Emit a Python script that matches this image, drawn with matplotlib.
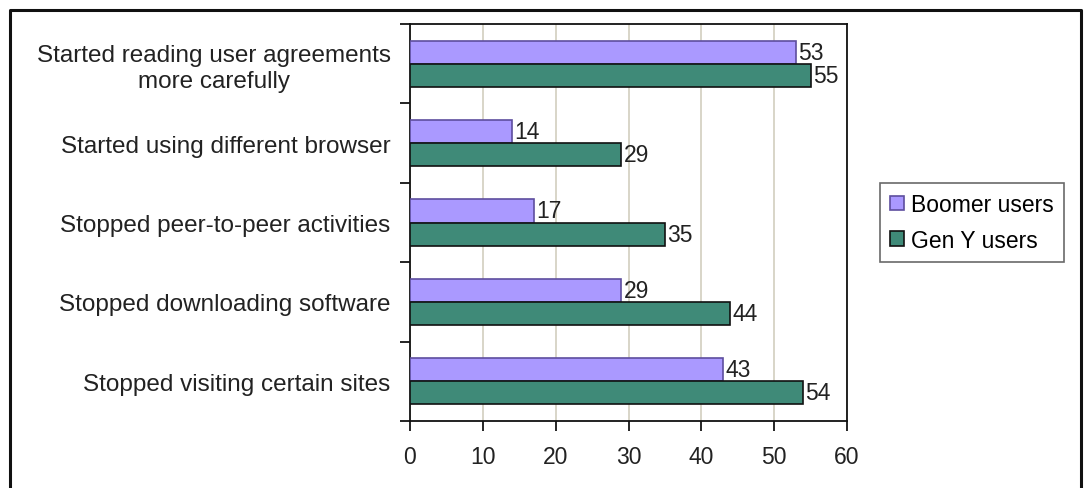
import matplotlib.pyplot as plt
import numpy as np
from matplotlib.lines import Line2D

plt.rcParams['font.family'] = ['Liberation Sans', 'DejaVu Sans']

categories = ["Started reading user agreements\nmore carefully",
              "Started using different browser",
              "Stopped peer-to-peer activities",
              "Stopped downloading software",
              "Stopped visiting certain sites"]
boomer = [53, 14, 17, 29, 43]
geny = [55, 29, 35, 44, 54]
x_ticks = [0, 10, 20, 30, 40, 50, 60]

FS = 16.5
fig = plt.figure(figsize=(10.88, 4.89), dpi=100)
ax = fig.add_axes([410 / 1088, 1 - 422 / 489, 437 / 1088, 397 / 489])

y = np.arange(len(categories))
h = 0.29
b1 = ax.barh(y - h / 2, boomer, height=h, color='#AA99FF', edgecolor='#5E4E9E',
             linewidth=1.2, label='Boomer users', zorder=3)
b2 = ax.barh(y + h / 2, geny, height=h, color='#3F8A78', edgecolor='#111111',
             linewidth=1.2, label='Gen Y users', zorder=3)

for bars, vals in ((b1, boomer), (b2, geny)):
    for r, v in zip(bars, vals):
        ax.text(v + 0.3, r.get_y() + r.get_height() / 2, str(v), va='center',
                ha='left', fontsize=FS, color='#222222', zorder=4)

ax.set_xlim(0, 60)
ax.set_ylim(len(categories) - 0.5, -0.5)
ax.set_xticks(x_ticks)
ax.set_xticklabels([str(t) for t in x_ticks], fontsize=FS, color='#222222')
ax.set_yticks(y)
ax.set_yticklabels(categories, fontsize=17.5, color='#222222', linespacing=1.25,
                   multialignment='center')
ax.tick_params(axis='y', length=0, pad=14)
ax.set_yticks(np.arange(len(categories) + 1) - 0.5, minor=True)
ax.tick_params(axis='y', which='minor', length=7, width=1.2, direction='out')
ax.tick_params(axis='x', length=7, width=1.2, direction='out', pad=10)
ax.xaxis.grid(True, color='#D6D2C4', linewidth=1.3, zorder=0)
for s in ax.spines.values():
    s.set_linewidth(1.3)
    s.set_color('#111111')

leg = ax.legend(loc='center left', bbox_to_anchor=(1.075, 0.5), fontsize=FS,
                frameon=True, fancybox=False, edgecolor='#444444',
                handlelength=0.6, handleheight=0.6, handletextpad=0.3,
                borderpad=0.45, labelspacing=0.55, borderaxespad=0)
leg.get_frame().set_linewidth(1.2)

# outer frame (bottom edge cut off in the original)
fx = [10 / 1088, 10 / 1088, 1081 / 1088, 1081 / 1088]
fy = [0, 1 - 11 / 489, 1 - 11 / 489, 0]
fig.add_artist(Line2D(fx, fy, color='#111111', linewidth=2.2,
                      transform=fig.transFigure))

fig.savefig('out.png', dpi=100)
